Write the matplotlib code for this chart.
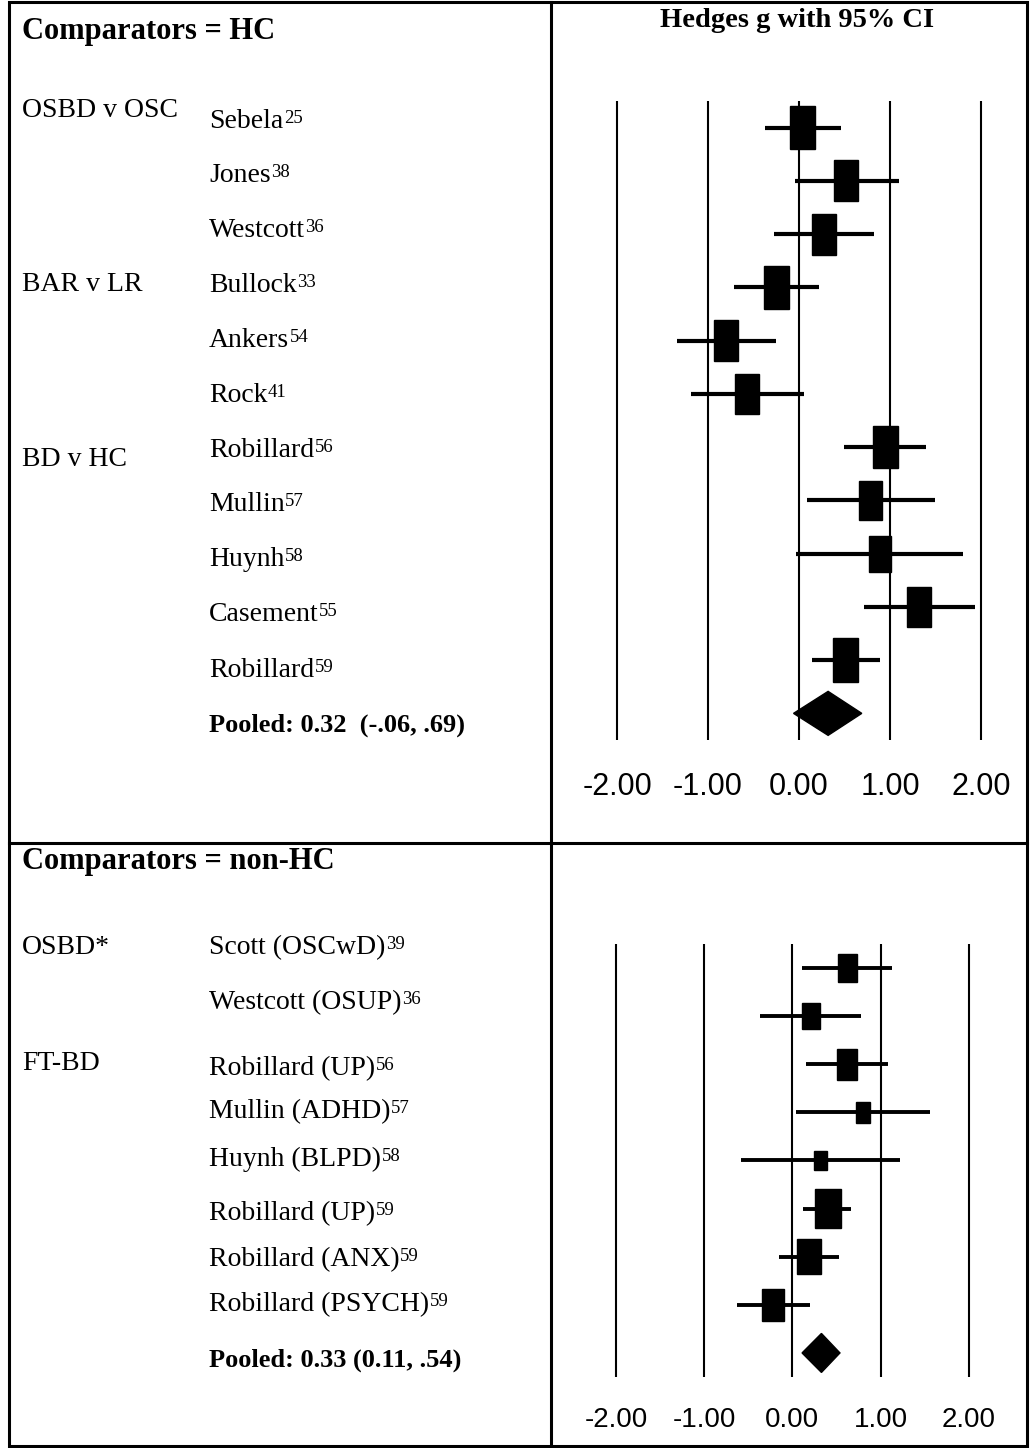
import numpy as np
import matplotlib
matplotlib.use('Agg')
import matplotlib.pyplot as plt
from matplotlib.patches import Rectangle, Polygon

plt.rcParams['font.family'] = ['Liberation Serif', 'DejaVu Serif']

# ----------------------------------------------------------- data
ticks = [-2, -1, 0, 1, 2]
tick_labels = ['-2.00', '-1.00', '0.00', '1.00', '2.00']

# Comparators = HC
hc_groups = ['OSBD v OSC', 'BAR v LR', 'BD v HC']
hc_studies = ['Sebela', 'Jones', 'Westcott', 'Bullock', 'Ankers', 'Rock',
              'Robillard', 'Mullin', 'Huynh', 'Casement', 'Robillard']
hc_refs = ['25', '38', '36', '33', '54', '41', '56', '57', '58', '55', '59']
hc_g = [0.04, 0.52, 0.28, -0.25, -0.80, -0.57, 0.95, 0.79, 0.89, 1.32, 0.51]
hc_lo = [-0.37, -0.04, -0.27, -0.71, -1.34, -1.19, 0.49, 0.09, -0.03, 0.71, 0.14]
hc_hi = [0.46, 1.10, 0.82, 0.22, -0.25, 0.05, 1.40, 1.49, 1.80, 1.93, 0.89]
hc_weight = [25.3, 24.0, 24.0, 25.3, 24.0, 23.3, 24.7, 23.0, 21.3, 23.7, 25.7]
hc_pooled = [0.32, -0.06, 0.69]
hc_pooled_label = 'Pooled: 0.32  (-.06, .69)'

# Comparators = non-HC
nhc_groups = ['OSBD*', 'FT-BD']
nhc_studies = ['Scott (OSCwD)', 'Westcott (OSUP)', 'Robillard (UP)', 'Mullin (ADHD)',
               'Huynh (BLPD)', 'Robillard (UP)', 'Robillard (ANX)', 'Robillard (PSYCH)']
nhc_refs = ['39', '36', '56', '57', '58', '59', '59', '59']
nhc_g = [0.63, 0.21, 0.62, 0.80, 0.32, 0.40, 0.19, -0.22]
nhc_lo = [0.11, -0.37, 0.155, 0.04, -0.585, 0.12, -0.15, -0.63]
nhc_hi = [1.13, 0.78, 1.08, 1.56, 1.22, 0.67, 0.53, 0.20]
nhc_weight = [19.0, 17.7, 20.7, 14.3, 12.3, 26.0, 23.7, 21.7]
nhc_pooled = [0.33, 0.11, 0.54]
nhc_pooled_label = 'Pooled: 0.33 (0.11, .54)'

# ----------------------------------------------------------- layout (pixels)
W, H = 1030, 1448
fig = plt.figure(figsize=(W / 100, H / 100), dpi=100)
renderer = fig.canvas.get_renderer()

bg = fig.add_axes([0, 0, 1, 1])
bg.set_xlim(0, W)
bg.set_ylim(H, 0)
bg.axis('off')

# table borders
bg.add_patch(Rectangle((8.5, 1.5), 1027 - 8.5, 1446 - 1.5, fill=False, lw=2.2, color='black'))
bg.plot([550.5, 550.5], [1.5, 1446], color='black', lw=2.2)
bg.plot([8.5, 1027], [843, 843], color='black', lw=2.2)


def px_axes(x_lo, x_hi, y_top, y_bot, xlim, ylim):
    '''axes whose xlim/ylim land on the given pixel positions'''
    sx = (x_hi - x_lo) / (xlim[1] - xlim[0])
    sy = (y_bot - y_top) / (ylim[1] - ylim[0])
    margin = 0.45
    left = x_lo - margin * sx
    right = x_hi + margin * sx
    ax = fig.add_axes([left / W, 1 - y_bot / H, (right - left) / W, (y_bot - y_top) / H])
    ax.set_xlim(xlim[0] - margin, xlim[1] + margin)
    ax.set_ylim(ylim[1], ylim[0])
    ax.patch.set_alpha(0)
    for s in ax.spines.values():
        s.set_visible(False)
    ax.set_xticks([])
    ax.set_yticks([])
    return ax, sx, sy


def forest(ax, sx, sy, g, lo, hi, weight, pooled, aspect, ci_lw, label_y, pooled_h, tick_fs):
    n = len(g)
    rows = np.arange(n)
    ax.vlines(ticks, -0.5, n + 0.5, color='black', lw=1.5, zorder=1)
    ax.hlines(rows, lo, hi, color='black', lw=ci_lw, zorder=2)
    for r, gi, w in zip(rows, g, weight):
        bw = w / sx
        bh = w * aspect / sy
        ax.add_patch(Rectangle((gi - bw / 2, r - bh / 2), bw, bh, color='black', zorder=3))
    est, plo, phi = pooled
    dh = pooled_h / sy / 2
    ax.add_patch(Polygon([[plo, n], [est, n - dh], [phi, n], [est, n + dh]],
                         closed=True, color='black', zorder=3))
    for t, lab in zip(ticks, tick_labels):
        ax.text(t, label_y, lab, transform=ax.get_xaxis_transform(), ha='center',
                va='baseline', fontsize=tick_fs, family=['Liberation Sans', 'DejaVu Sans'])


def study_label(x, y, name, ref):
    t = bg.text(x, y, name, fontsize=20, va='baseline')
    x_end = t.get_window_extent(renderer).x1
    bg.text(x_end + 0.5, y - 5, ref, fontsize=13.5, va='baseline')


# top forest: -2 -> 617px, 2 -> 981px ; rows -0.5 -> 101px, 11.5 -> 740px
ax1, sx1, sy1 = px_axes(617, 981, 101, 740, (-2, 2), (-0.5, len(hc_g) + 0.5))
forest(ax1, sx1, sy1, hc_g, hc_lo, hc_hi, hc_weight, hc_pooled, 1.7, 3.0,
       -(795 - 740) / (740 - 101), 44, 22)

# bottom forest: -2 -> 616px, 2 -> 968.7px ; rows -0.5 -> 944px, 8.5 -> 1377px
ax2, sx2, sy2 = px_axes(616, 968.7, 944, 1377, (-2, 2), (-0.5, len(nhc_g) + 0.5))
forest(ax2, sx2, sy2, nhc_g, nhc_lo, nhc_hi, nhc_weight, nhc_pooled, 1.48, 2.8,
       -(1427 - 1377) / (1377 - 944), 39, 20)

# ----------------------------------------------------------- text
bg.text(22, 39, 'Comparators = HC', fontsize=22, fontweight='bold', va='baseline')
bg.text(797, 27, 'Hedges g with 95% CI', fontsize=20.5, fontweight='bold', va='baseline', ha='center')
bg.text(22, 869, 'Comparators = non-HC', fontsize=22, fontweight='bold', va='baseline')

hc_group_y = [117, 291, 466]
for lab, y in zip(hc_groups, hc_group_y):
    bg.text(22, y, lab, fontsize=20, va='baseline')
hc_text_y = [128, 182, 237, 292, 347, 402, 457, 511, 566, 621, 677]
for name, ref, y in zip(hc_studies, hc_refs, hc_text_y):
    study_label(209, y, name, ref)
bg.text(209, 732, hc_pooled_label, fontsize=19, fontweight='bold', va='baseline')

nhc_group_y = [954, 1070]
for lab, y in zip(nhc_groups, nhc_group_y):
    bg.text(22, y, lab, fontsize=20, va='baseline')
nhc_text_y = [954, 1009, 1075, 1118, 1166, 1220, 1266, 1311]
for name, ref, y in zip(nhc_studies, nhc_refs, nhc_text_y):
    study_label(209, y, name, ref)
bg.text(209, 1367, nhc_pooled_label, fontsize=19, fontweight='bold', va='baseline')

fig.savefig('out.png', dpi=100)
